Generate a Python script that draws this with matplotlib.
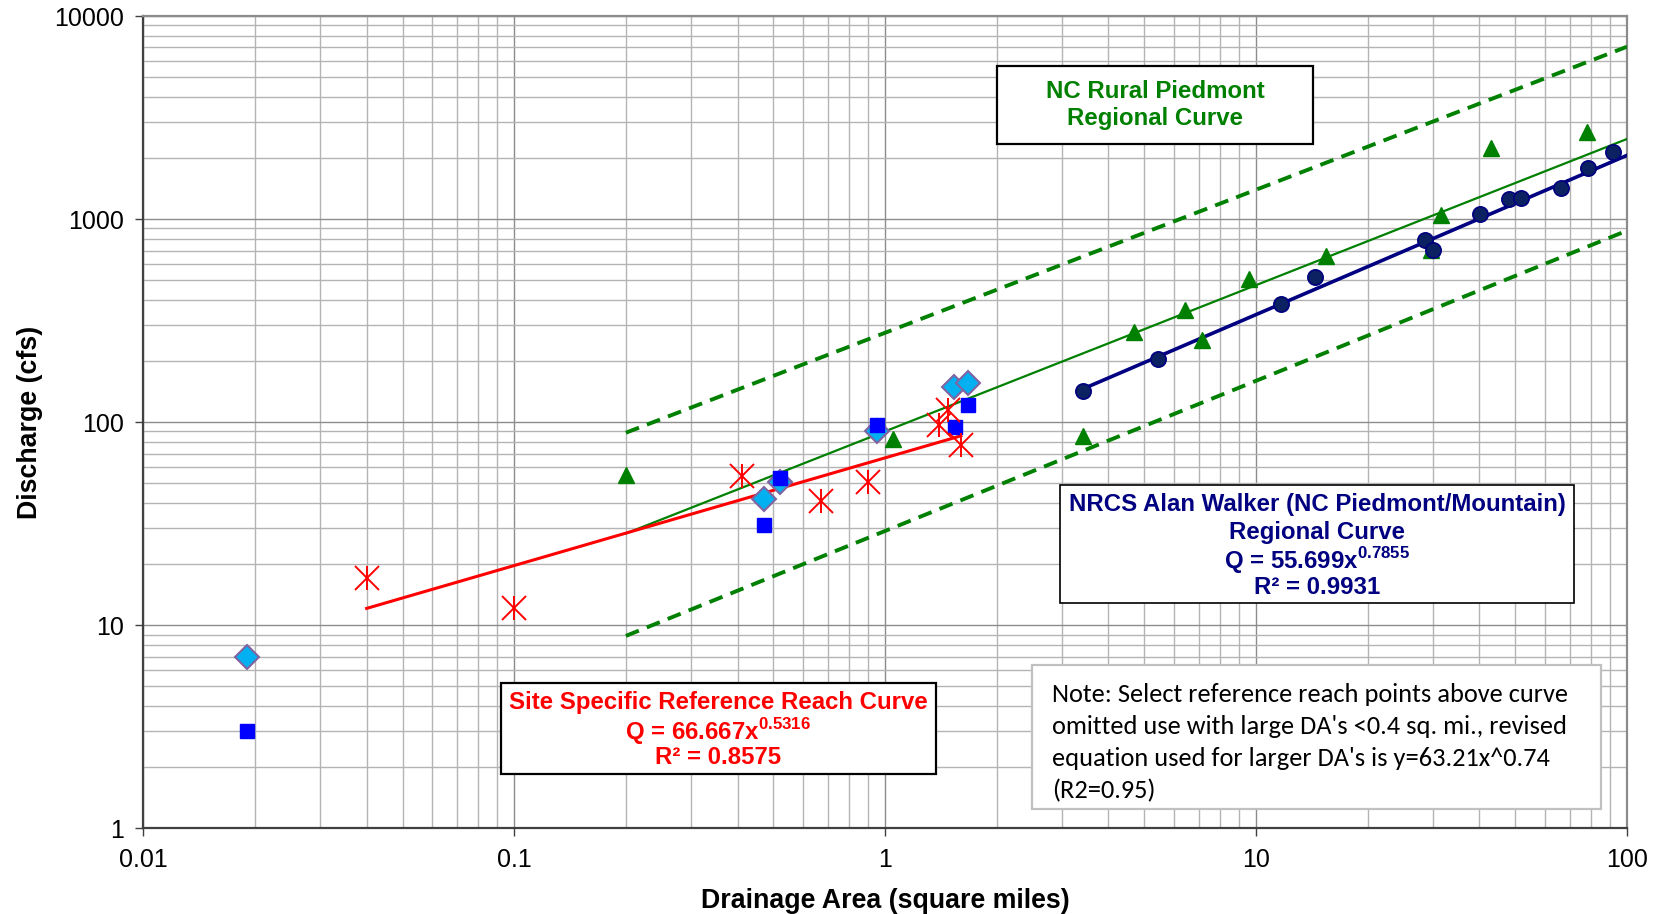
import matplotlib
matplotlib.use("Agg")
import matplotlib.pyplot as plt
from matplotlib.patches import Rectangle
from matplotlib.ticker import NullFormatter, LogLocator

# site specific reference reach (red stars)
rr_area = [0.04, 0.1, 0.41, 0.67, 0.9, 1.4, 1.48, 1.6]
rr_q = [17, 12.2, 54, 41, 51, 97, 115, 77]

# other reference reach points
dia_area = [0.019, 0.47, 0.52, 0.95, 1.53, 1.67]
dia_q = [7, 42, 51, 90, 149, 156]
sq_area = [0.019, 0.47, 0.52, 0.95, 1.54, 1.67]
sq_q = [3, 31, 53, 97, 95, 121]

# NC rural piedmont regional curve data
pied_area = [0.2, 1.05, 3.42, 4.69, 6.43, 7.13, 9.59, 15.4, 29.6, 31.5, 42.9, 77.8]
pied_q = [55, 83, 85.5, 277, 356, 255, 505, 657, 706, 1049, 2234, 2674]

# NRCS Alan Walker data
walker_area = [3.42, 5.45, 11.7, 14.4, 28.6, 29.9, 40.2, 48.0, 51.7, 66.5, 78.7, 91.9]
walker_q = [143, 205, 383, 517, 788, 704, 1055, 1250, 1273, 1416, 1777, 2145]

# trend line end points (straight on log-log)
rr_fit_area = [0.04, 1.6]
rr_fit_q = [12.1, 85.6]
walker_fit_area = [3.42, 100]
walker_fit_q = [146, 2060]
pied_fit_area = [0.2, 100]
pied_fit_q = [28.3, 2480]
pied_upper_q = [88.7, 7060]
pied_lower_q = [8.86, 877]

x_ticks = [0.01, 0.1, 1, 10, 100]
x_labels = ['0.01', '0.1', '1', '10', '100']
y_ticks = [1, 10, 100, 1000, 10000]
y_labels = ['1', '10', '100', '1000', '10000']

plt.rcParams['font.family'] = ['Liberation Sans', 'DejaVu Sans']
plt.rcParams['mathtext.fontset'] = 'custom'
plt.rcParams['mathtext.rm'] = 'Liberation Sans'
plt.rcParams['mathtext.bf'] = 'Liberation Sans:bold'

W, H = 1659, 914
fig = plt.figure(figsize=(W / 100, H / 100), dpi=100)
ax = fig.add_axes([143.3 / W, 1 - 828.3 / H, (1627 - 143.3) / W, (828.3 - 16) / H])
ax.set_xscale('log')
ax.set_yscale('log')
ax.set_xlim(0.01, 100)
ax.set_ylim(1, 10000)

for a in (ax.xaxis, ax.yaxis):
	a.set_minor_locator(LogLocator(base=10, subs=range(2, 10)))
	a.set_minor_formatter(NullFormatter())
ax.set_xticks(x_ticks)
ax.set_xticklabels(x_labels)
ax.set_yticks(y_ticks)
ax.set_yticklabels(y_labels)
ax.grid(which='minor', color='#b4b4b4', lw=1.0, zorder=0)
ax.grid(which='major', color='#8c8c8c', lw=1.0, zorder=0)
ax.set_axisbelow(True)
ax.tick_params(which='minor', length=0)
ax.tick_params(which='major', length=6, width=1.0, color='#404040', labelsize=18, pad=8)
for s in ('left', 'bottom'):
	ax.spines[s].set_color('#404040')
	ax.spines[s].set_linewidth(1.6)
for s in ('top', 'right'):
	ax.spines[s].set_color('#8c8c8c')
	ax.spines[s].set_linewidth(1.6)

green = '#008000'
# regional curve lines
ax.plot(pied_fit_area, pied_upper_q, color=green, lw=2.8, dashes=(3.6, 2.2), dash_capstyle='butt', zorder=3)
ax.plot(pied_fit_area, pied_lower_q, color=green, lw=2.8, dashes=(3.6, 2.2), dash_capstyle='butt', zorder=3)
ax.plot(pied_fit_area, pied_fit_q, color=green, lw=1.6, zorder=3)
ax.plot(walker_fit_area, walker_fit_q, color='#000080', lw=2.6, zorder=3)
ax.plot(rr_fit_area, rr_fit_q, color='#ff0000', lw=2.2, zorder=3)

# data points
ax.plot(pied_area, pied_q, ls='none', marker='^', ms=11, color=green, zorder=4)
ax.plot(walker_area, walker_q, ls='none', marker='o', ms=11, mfc='#0c2161', mec='#000080', mew=1.2, zorder=4)
ax.plot(dia_area, dia_q, ls='none', marker='D', ms=12, mfc='#00b0f0', mec='#8064a2', mew=1.5, zorder=4)
ax.plot(sq_area, sq_q, ls='none', marker='s', ms=9.5, color='#0000ff', zorder=4)
ax.plot(rr_area, rr_q, ls='none', marker='x', ms=17, mew=1.4, color='#ff0000', zorder=5)
ax.plot(rr_area, rr_q, ls='none', marker='|', ms=17, mew=1.4, color='#ff0000', zorder=5)

ax.set_xlabel('Drainage Area (square miles)', fontsize=19.3, fontweight='bold', labelpad=12)
ax.set_ylabel('Discharge (cfs)', fontsize=19.3, fontweight='bold', labelpad=8)


def box(x0, y0, x1, y1, ec, lw):
	fig.patches.append(Rectangle((x0 / W, 1 - y1 / H), (x1 - x0) / W, (y1 - y0) / H,
		transform=fig.transFigure, fc='white', ec=ec, lw=lw, zorder=5))


def label(x, y, s, **kw):
	fig.text(x / W, 1 - y / H, s, ha='center', va='center', zorder=6, **kw)


fs = 17.3
box(997, 66, 1313, 143.5, 'black', 1.6)
label(1155, 91, 'NC Rural Piedmont', color=green, fontsize=fs, fontweight='bold')
label(1155, 118, 'Regional Curve', color=green, fontsize=fs, fontweight='bold')

navy = '#000080'
box(1060, 485, 1574, 603, 'black', 1.2)
label(1317, 505, 'NRCS Alan Walker (NC Piedmont/Mountain)', color=navy, fontsize=fs, fontweight='bold')
label(1317, 532, 'Regional Curve', color=navy, fontsize=fs, fontweight='bold')
label(1317, 561, 'Q = 55.699x$^{\\mathbf{0.7855}}$', color=navy, fontsize=fs, fontweight='bold')
label(1317, 587, 'R² = 0.9931', color=navy, fontsize=fs, fontweight='bold')

red = '#ff0000'
box(501, 683, 936, 774, 'black', 1.6)
label(718, 702, 'Site Specific Reference Reach Curve', color=red, fontsize=fs, fontweight='bold')
label(718, 732, 'Q = 66.667x$^{\\mathbf{0.5316}}$', color=red, fontsize=fs, fontweight='bold')
label(718, 758, 'R² = 0.8575', color=red, fontsize=fs, fontweight='bold')

box(1032, 665, 1601, 809, '#c0c0c0', 1.6)
note = ["Note: Select reference reach points above curve",
	"omitted use with large DA's <0.4 sq. mi., revised",
	"equation used for larger DA's is y=63.21x^0.74",
	"(R2=0.95)"]
for i, line in enumerate(note):
	fig.text(1052 / W, 1 - (694 + 32.3 * i) / H, line, ha='left', va='center', zorder=6,
		family=['Carlito', 'Lato', 'DejaVu Sans'], fontsize=19, color='black')

fig.savefig('out.png', dpi=100)
